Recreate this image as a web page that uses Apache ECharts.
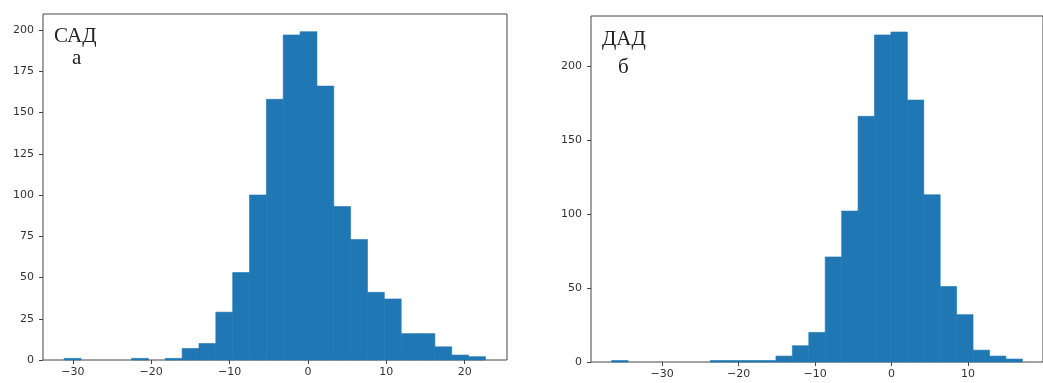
<!DOCTYPE html>
<html>
<head>
<meta charset="utf-8">
<script src="https://cdn.jsdelivr.net/npm/echarts@6/dist/echarts.min.js"></script>
<style>
  html, body { margin: 0; padding: 0; background: #fff; }
  #myChart { width: 1043px; height: 383px; }
</style>
</head>
<body>
<div id="myChart"></div>
<script>
// САД (a) histogram: 25 bins
const sadBinStart = -31.1;
const sadBinWidth = 2.15;
const sadCounts = [1, 0, 0, 0, 1, 0, 1, 7, 10, 29, 53, 100, 158, 197, 199, 166, 93, 73, 41, 37, 16, 16, 8, 3, 2];
const sadTicksX = [-30, -20, -10, 0, 10, 20];
const sadTicksY = [0, 25, 50, 75, 100, 125, 150, 175, 200];

// ДАД (б) histogram: 25 bins
const dadBinStart = -36.6;
const dadBinWidth = 2.148;
const dadCounts = [1, 0, 0, 0, 0, 0, 1, 1, 1, 1, 4, 11, 20, 71, 102, 166, 221, 223, 177, 113, 51, 32, 8, 4, 2];
const dadTicksX = [-30, -20, -10, 0, 10];
const dadTicksY = [0, 50, 100, 150, 200];

const barColor = "#1f77b4";
const lineColor = "#444";
const labelColor = "#333";

function binsOf(start, width, counts) {
  return counts.map((c, i) => [start + i * width, start + (i + 1) * width, c]);
}

function renderBin(params, api) {
  if (!api.value(2)) return null; // пустой бин не рисуем
  const p0 = api.coord([api.value(0), api.value(2)]);
  const p1 = api.coord([api.value(1), 0]);
  return {
    type: "rect",
    shape: { x: p0[0], y: p0[1], width: p1[0] - p0[0], height: p1[1] - p0[1] },
    style: { fill: barColor, stroke: barColor, lineWidth: 0.6 }
  };
}

function xAxisOf(idx, min, max, ticks) {
  return {
    type: "value", gridIndex: idx, min: min, max: max,
    splitLine: { show: false },
    axisLine: { show: false, onZero: false },
    axisTick: { show: true, length: 4, customValues: ticks, lineStyle: { color: lineColor } },
    axisLabel: {
      customValues: ticks, margin: 7, color: labelColor,
      fontFamily: "DejaVu Sans", fontSize: 11,
      formatter: (v) => String(v).replace("-", "\u2212")
    }
  };
}

function yAxisOf(idx, max, ticks) {
  return {
    type: "value", gridIndex: idx, min: 0, max: max,
    splitLine: { show: false },
    axisLine: { show: false, onZero: false },
    axisTick: { show: true, length: 4, customValues: ticks, lineStyle: { color: lineColor } },
    axisLabel: {
      customValues: ticks, margin: 9, color: labelColor,
      fontFamily: "DejaVu Sans", fontSize: 11
    }
  };
}

let myChart = echarts.init(document.getElementById("myChart"));
myChart.setOption({
  animation: false,
  grid: [
    { left: 43, top: 14, width: 464, height: 346, show: true, borderColor: lineColor, borderWidth: 1 },
    { left: 591, top: 16, width: 462, height: 346, show: true, borderColor: lineColor, borderWidth: 1 }
  ],
  xAxis: [
    xAxisOf(0, -33.8, 25.4, sadTicksX),
    xAxisOf(1, -39.3, 19.8, dadTicksX)
  ],
  yAxis: [
    yAxisOf(0, 209.7, sadTicksY),
    yAxisOf(1, 233.8, dadTicksY)
  ],
  series: [
    {
      type: "custom", xAxisIndex: 0, yAxisIndex: 0,
      renderItem: renderBin, encode: { x: [0, 1], y: 2 },
      data: binsOf(sadBinStart, sadBinWidth, sadCounts)
    },
    {
      type: "custom", xAxisIndex: 1, yAxisIndex: 1,
      renderItem: renderBin, encode: { x: [0, 1], y: 2 },
      data: binsOf(dadBinStart, dadBinWidth, dadCounts)
    }
  ],
  // подписи панелей
  graphic: [
    { type: "text", left: 54, top: 26, style: { text: "САД", font: "21px 'Liberation Serif'", fill: "#222" } },
    { type: "text", left: 72, top: 48, style: { text: "а", font: "21px 'Liberation Serif'", fill: "#222" } },
    { type: "text", left: 602, top: 29, style: { text: "ДАД", font: "21px 'Liberation Serif'", fill: "#222" } },
    { type: "text", left: 618, top: 57, style: { text: "б", font: "21px 'Liberation Serif'", fill: "#222" } }
  ]
});
</script>
</body>
</html>
